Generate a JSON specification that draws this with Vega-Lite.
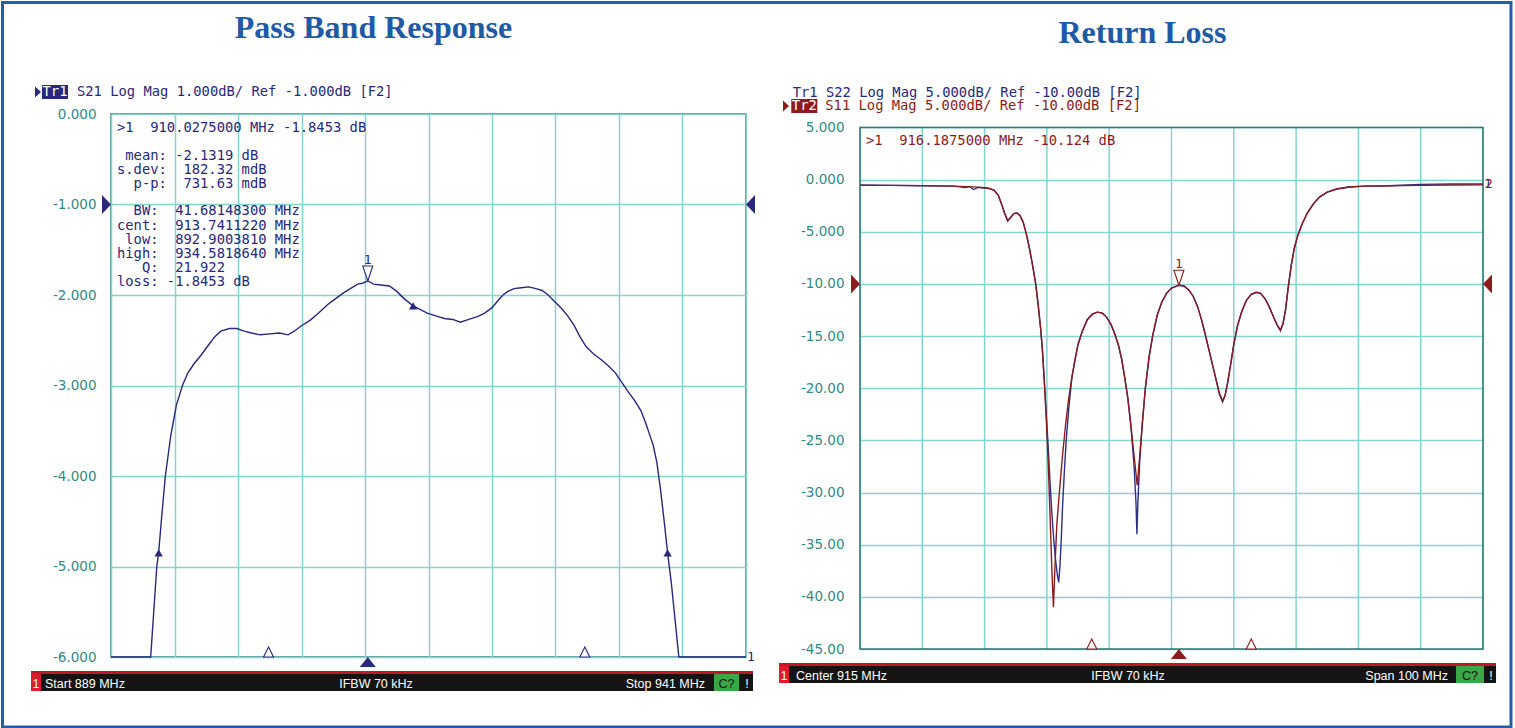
{
  "$schema": "https://vega.github.io/schema/vega-lite/v6.json",
  "background": "white",
  "padding": 0,
  "config": {
    "locale": {"number": {"decimal": ".", "thousands": ",", "grouping": [3], "currency": ["$", ""], "minus": "-"}},
    "view": {"stroke": "#2a7b78", "strokeWidth": 1.5},
    "axis": {"grid": true, "gridColor": "#86d3cf", "gridWidth": 1.5, "gridOpacity": 1, "ticks": false, "domain": false, "labelFont": "DejaVu Sans", "labelFontSize": 13.5, "labelColor": "#2f8a86"}
  },
  "datasets": {
    "s21": [
      {"freq":889,"db":-6},{"freq":892.25,"db":-6},{"freq":892.5,"db":-5.5},{"freq":892.75,"db":-5.0},{"freq":892.9,"db":-4.85},{"freq":893.15,"db":-4.45},{"freq":893.45,"db":-4.0},{"freq":893.9,"db":-3.55},{"freq":894.35,"db":-3.22},{"freq":894.85,"db":-3.0},{"freq":895.3,"db":-2.86},{"freq":895.8,"db":-2.76},{"freq":896.4,"db":-2.66},{"freq":897.0,"db":-2.55},{"freq":897.5,"db":-2.46},{"freq":898.0,"db":-2.4},{"freq":898.7,"db":-2.37},{"freq":899.3,"db":-2.37},{"freq":899.9,"db":-2.4},{"freq":900.5,"db":-2.42},{"freq":901.2,"db":-2.44},{"freq":902.0,"db":-2.43},{"freq":902.8,"db":-2.42},{"freq":903.5,"db":-2.44},{"freq":904.0,"db":-2.4},{"freq":904.6,"db":-2.34},{"freq":905.3,"db":-2.28},{"freq":906.0,"db":-2.2},{"freq":906.7,"db":-2.11},{"freq":907.4,"db":-2.04},{"freq":908.0,"db":-1.98},{"freq":908.6,"db":-1.93},{"freq":909.2,"db":-1.88},{"freq":909.6,"db":-1.87},{"freq":910.03,"db":-1.845},{"freq":910.5,"db":-1.88},{"freq":911.1,"db":-1.89},{"freq":911.8,"db":-1.9},{"freq":912.4,"db":-1.96},{"freq":913.0,"db":-2.04},{"freq":913.74,"db":-2.12},{"freq":914.3,"db":-2.16},{"freq":914.9,"db":-2.2},{"freq":915.6,"db":-2.23},{"freq":916.3,"db":-2.26},{"freq":917.0,"db":-2.27},{"freq":917.6,"db":-2.3},{"freq":918.3,"db":-2.27},{"freq":919.0,"db":-2.24},{"freq":919.6,"db":-2.2},{"freq":920.2,"db":-2.14},{"freq":920.7,"db":-2.06},{"freq":921.1,"db":-2.0},{"freq":921.5,"db":-1.96},{"freq":922.0,"db":-1.93},{"freq":922.6,"db":-1.92},{"freq":923.2,"db":-1.91},{"freq":923.8,"db":-1.93},{"freq":924.3,"db":-1.95},{"freq":924.8,"db":-2.0},{"freq":925.3,"db":-2.07},{"freq":925.9,"db":-2.15},{"freq":926.4,"db":-2.23},{"freq":926.9,"db":-2.33},{"freq":927.4,"db":-2.46},{"freq":927.9,"db":-2.57},{"freq":928.5,"db":-2.65},{"freq":929.1,"db":-2.71},{"freq":929.7,"db":-2.78},{"freq":930.3,"db":-2.86},{"freq":930.8,"db":-2.96},{"freq":931.3,"db":-3.06},{"freq":931.9,"db":-3.17},{"freq":932.4,"db":-3.28},{"freq":932.8,"db":-3.42},{"freq":933.1,"db":-3.54},{"freq":933.4,"db":-3.66},{"freq":933.7,"db":-3.85},{"freq":934.0,"db":-4.15},{"freq":934.3,"db":-4.5},{"freq":934.58,"db":-4.85},{"freq":934.9,"db":-5.2},{"freq":935.2,"db":-5.6},{"freq":935.5,"db":-6},{"freq":941,"db":-6}
    ],
    "s21marks": [{"freq":892.900381,"db":-4.85},{"freq":934.581864,"db":-4.85},{"freq":913.741122,"db":-2.12}],
    "s21span": [{"freq":901.9,"db":-6},{"freq":927.8,"db":-6}],
    "s21m1": [{"freq":910.0275,"db":-1.8453}],
    "rlgrid": [{"freq":865},{"freq":875},{"freq":885},{"freq":895},{"freq":905},{"freq":915},{"freq":925},{"freq":935},{"freq":945},{"freq":955},{"freq":965}],
    "s11": [
      {"freq":865,"db":-0.55},{"freq":870,"db":-0.55},{"freq":875,"db":-0.57},{"freq":880,"db":-0.62},{"freq":884,"db":-0.72},{"freq":885.5,"db":-0.8},{"freq":886.5,"db":-1.0},{"freq":887.2,"db":-1.5},{"freq":887.7,"db":-2.3},{"freq":888.2,"db":-3.2},{"freq":888.7,"db":-3.95},{"freq":889.2,"db":-3.6},{"freq":889.7,"db":-3.25},{"freq":890.2,"db":-3.2},{"freq":890.7,"db":-3.45},{"freq":891.2,"db":-4.1},{"freq":891.7,"db":-5.2},{"freq":892.2,"db":-6.6},{"freq":892.7,"db":-8.2},{"freq":893.2,"db":-10.0},{"freq":893.6,"db":-12.0},{"freq":894.0,"db":-14.3},{"freq":894.3,"db":-16.5},{"freq":894.6,"db":-19.5},{"freq":894.9,"db":-23.0},{"freq":895.2,"db":-27.0},{"freq":895.5,"db":-32.0},{"freq":895.8,"db":-37.5},{"freq":896.05,"db":-41.0},{"freq":896.3,"db":-37.0},{"freq":896.6,"db":-33.0},{"freq":897.0,"db":-30.0},{"freq":897.5,"db":-26.5},{"freq":898.0,"db":-23.5},{"freq":898.5,"db":-21.0},{"freq":899.0,"db":-19.0},{"freq":899.5,"db":-17.3},{"freq":900.0,"db":-15.8},{"freq":900.7,"db":-14.5},{"freq":901.5,"db":-13.4},{"freq":902.3,"db":-12.9},{"freq":903.1,"db":-12.7},{"freq":903.9,"db":-12.8},{"freq":904.6,"db":-13.2},{"freq":905.3,"db":-13.9},{"freq":905.9,"db":-14.8},{"freq":906.5,"db":-15.9},{"freq":907.0,"db":-17.2},{"freq":907.5,"db":-19.0},{"freq":908.0,"db":-21.0},{"freq":908.5,"db":-23.7},{"freq":909.0,"db":-26.5},{"freq":909.5,"db":-29.3},{"freq":909.9,"db":-26.5},{"freq":910.3,"db":-23.5},{"freq":910.8,"db":-20.0},{"freq":911.4,"db":-17.0},{"freq":912.0,"db":-14.9},{"freq":912.7,"db":-13.0},{"freq":913.4,"db":-11.8},{"freq":914.2,"db":-10.9},{"freq":915.0,"db":-10.4},{"freq":916.19,"db":-10.12},{"freq":917.0,"db":-10.2},{"freq":917.8,"db":-10.6},{"freq":918.5,"db":-11.2},{"freq":919.2,"db":-12.2},{"freq":919.8,"db":-13.4},{"freq":920.4,"db":-14.8},{"freq":921.0,"db":-16.3},{"freq":921.6,"db":-17.8},{"freq":922.2,"db":-19.3},{"freq":922.7,"db":-20.5},{"freq":923.2,"db":-21.2},{"freq":923.6,"db":-20.7},{"freq":924.0,"db":-19.5},{"freq":924.5,"db":-17.7},{"freq":925.0,"db":-15.8},{"freq":925.6,"db":-14.0},{"freq":926.3,"db":-12.6},{"freq":927.0,"db":-11.6},{"freq":927.8,"db":-11.0},{"freq":928.6,"db":-10.8},{"freq":929.3,"db":-10.9},{"freq":930.0,"db":-11.4},{"freq":930.7,"db":-12.2},{"freq":931.4,"db":-13.2},{"freq":932.0,"db":-14.0},{"freq":932.5,"db":-14.4},{"freq":932.9,"db":-13.8},{"freq":933.3,"db":-12.5},{"freq":933.7,"db":-10.5},{"freq":934.2,"db":-8.3},{"freq":934.7,"db":-6.6},{"freq":935.3,"db":-5.3},{"freq":936.0,"db":-4.2},{"freq":936.8,"db":-3.2},{"freq":937.8,"db":-2.3},{"freq":938.8,"db":-1.65},{"freq":940.0,"db":-1.2},{"freq":941.5,"db":-0.9},{"freq":943.5,"db":-0.7},{"freq":946,"db":-0.62},{"freq":950,"db":-0.58},{"freq":955,"db":-0.55},{"freq":960,"db":-0.52},{"freq":965,"db":-0.5}
    ],
    "s22": [
      {"freq":865,"db":-0.5},{"freq":870,"db":-0.55},{"freq":875,"db":-0.58},{"freq":880,"db":-0.62},{"freq":882,"db":-0.75},{"freq":882.6,"db":-0.65},{"freq":883.2,"db":-0.95},{"freq":884,"db":-0.75},{"freq":885.5,"db":-0.82},{"freq":886.5,"db":-1.0},{"freq":887.2,"db":-1.5},{"freq":887.7,"db":-2.3},{"freq":888.2,"db":-3.2},{"freq":888.7,"db":-3.95},{"freq":889.2,"db":-3.6},{"freq":889.7,"db":-3.25},{"freq":890.2,"db":-3.2},{"freq":890.7,"db":-3.45},{"freq":891.2,"db":-4.1},{"freq":891.7,"db":-5.2},{"freq":892.2,"db":-6.6},{"freq":892.7,"db":-8.2},{"freq":893.2,"db":-10.0},{"freq":893.6,"db":-12.0},{"freq":894.0,"db":-14.3},{"freq":894.3,"db":-16.5},{"freq":894.6,"db":-19.5},{"freq":894.9,"db":-22.5},{"freq":895.2,"db":-25.5},{"freq":895.5,"db":-29.0},{"freq":895.8,"db":-32.0},{"freq":896.1,"db":-34.5},{"freq":896.4,"db":-36.5},{"freq":896.7,"db":-38.0},{"freq":896.9,"db":-38.6},{"freq":897.1,"db":-37.0},{"freq":897.3,"db":-34.5},{"freq":897.5,"db":-31.5},{"freq":897.8,"db":-28.0},{"freq":898.1,"db":-25.0},{"freq":898.5,"db":-22.0},{"freq":899.0,"db":-19.0},{"freq":899.5,"db":-17.3},{"freq":900.0,"db":-15.8},{"freq":900.7,"db":-14.5},{"freq":901.5,"db":-13.4},{"freq":902.3,"db":-12.9},{"freq":903.1,"db":-12.7},{"freq":903.9,"db":-12.8},{"freq":904.6,"db":-13.2},{"freq":905.3,"db":-13.9},{"freq":905.9,"db":-14.8},{"freq":906.5,"db":-15.9},{"freq":907.0,"db":-17.2},{"freq":907.5,"db":-19.0},{"freq":908.0,"db":-21.0},{"freq":908.5,"db":-23.7},{"freq":909.0,"db":-27.5},{"freq":909.3,"db":-31.0},{"freq":909.45,"db":-34.0},{"freq":909.6,"db":-31.0},{"freq":909.9,"db":-27.0},{"freq":910.3,"db":-23.5},{"freq":910.8,"db":-20.0},{"freq":911.4,"db":-17.0},{"freq":912.0,"db":-14.9},{"freq":912.7,"db":-13.0},{"freq":913.4,"db":-11.8},{"freq":914.2,"db":-10.9},{"freq":915.0,"db":-10.4},{"freq":916.19,"db":-10.12},{"freq":917.0,"db":-10.2},{"freq":917.8,"db":-10.6},{"freq":918.5,"db":-11.2},{"freq":919.2,"db":-12.2},{"freq":919.8,"db":-13.4},{"freq":920.4,"db":-14.8},{"freq":921.0,"db":-16.3},{"freq":921.6,"db":-17.8},{"freq":922.2,"db":-19.3},{"freq":922.7,"db":-20.6},{"freq":923.2,"db":-21.3},{"freq":923.6,"db":-20.7},{"freq":924.0,"db":-19.5},{"freq":924.5,"db":-17.7},{"freq":925.0,"db":-15.8},{"freq":925.6,"db":-14.0},{"freq":926.3,"db":-12.6},{"freq":927.0,"db":-11.6},{"freq":927.8,"db":-11.0},{"freq":928.6,"db":-10.8},{"freq":929.3,"db":-10.9},{"freq":930.0,"db":-11.4},{"freq":930.7,"db":-12.2},{"freq":931.4,"db":-13.2},{"freq":932.0,"db":-14.0},{"freq":932.5,"db":-14.5},{"freq":932.9,"db":-13.8},{"freq":933.3,"db":-12.5},{"freq":933.7,"db":-10.5},{"freq":934.2,"db":-8.3},{"freq":934.7,"db":-6.6},{"freq":935.3,"db":-5.3},{"freq":936.0,"db":-4.2},{"freq":936.8,"db":-3.2},{"freq":937.8,"db":-2.3},{"freq":938.8,"db":-1.65},{"freq":940.0,"db":-1.2},{"freq":941.5,"db":-0.9},{"freq":943.5,"db":-0.7},{"freq":946,"db":-0.62},{"freq":950,"db":-0.58},{"freq":955,"db":-0.45},{"freq":960,"db":-0.42},{"freq":965,"db":-0.42}
    ],
    "s11span": [{"freq":902.2,"db":-45},{"freq":927.8,"db":-45}],
    "s11m1": [{"freq":916.1875,"db":-10.124}]
  },
  "columns": 2,
  "align": "none",
  "bounds": "flush",
  "spacing": 114,
  "concat": [
    {
      "width": 635,
      "height": 543,
      "data": {"values": [{}]},
      "layer": [
        {
          "data": {"name": "s21"},
          "mark": {"type": "line", "color": "#28287c", "strokeWidth": 1.4},
          "encoding": {
            "x": {"field": "freq", "type": "quantitative", "title": null, "scale": {"domain": [889, 941], "nice": false, "zero": false}, "axis": {"values": [889, 894.2, 899.4, 904.6, 909.8, 915, 920.2, 925.4, 930.6, 935.8, 941], "labels": false, "title": null}},
            "y": {"field": "db", "type": "quantitative", "title": null, "scale": {"domain": [-6, 0], "nice": false, "zero": false}, "axis": {"values": [0, -1, -2, -3, -4, -5, -6], "format": ".3f", "labelPadding": 15, "title": null}}
          }
        },
        {
          "mark": {"type": "rect", "fillOpacity": 0, "stroke": "#2060a8", "strokeWidth": 3},
          "encoding": {"x": {"datum": 880.115}, "x2": {"datum": 1003.645}, "y": {"datum": 1.232}, "y2": {"datum": -6.7735}}
        },
        {
          "mark": {"type": "text", "font": "Liberation Serif", "fontSize": 32, "fontWeight": "bold", "color": "#1f5aa6", "align": "center", "baseline": "alphabetic"},
          "encoding": {"x": {"datum": 910.496}, "y": {"datum": 0.8398}, "text": {"value": "Pass Band Response"}}
        },
        {
          "data": {"name": "s21marks"},
          "mark": {"type": "point", "shape": "triangle-up", "size": 70, "filled": true, "color": "#28287c", "opacity": 1},
          "encoding": {"x": {"field": "freq", "type": "quantitative", "title": null}, "y": {"field": "db", "type": "quantitative", "title": null}}
        },
        {
          "data": {"name": "s21span"},
          "mark": {"type": "point", "shape": "M0,-2 L1,0 L-1,0 Z", "size": 100, "filled": true, "fill": "white", "stroke": "#28287c", "strokeWidth": 1.1, "opacity": 1},
          "encoding": {"x": {"field": "freq", "type": "quantitative", "title": null}, "y": {"field": "db", "type": "quantitative", "title": null}}
        },
        {
          "data": {"name": "s21m1"},
          "mark": {"type": "point", "shape": "M-1,-3 L1,-3 L0,0 Z", "size": 100, "filled": true, "fill": "white", "stroke": "#28287c", "strokeWidth": 1.1, "opacity": 1},
          "encoding": {"x": {"field": "freq", "type": "quantitative", "title": null}, "y": {"field": "db", "type": "quantitative", "title": null}}
        },
        {
          "data": {"name": "s21m1"},
          "mark": {"type": "text", "text": "1", "font": "DejaVu Sans Mono", "fontSize": 13, "color": "#28287c", "dy": -17, "baseline": "alphabetic"},
          "encoding": {"x": {"field": "freq", "type": "quantitative", "title": null}, "y": {"field": "db", "type": "quantitative", "title": null}}
        },
        {
          "data": {"name": "s21m1"},
          "mark": {"type": "point", "shape": "M0,0 L1,1.25 L-1,1.25 Z", "size": 256, "filled": true, "color": "#28287c", "opacity": 1},
          "encoding": {"x": {"field": "freq", "type": "quantitative", "title": null}, "y": {"datum": -6}}
        },
        {
          "mark": {"type": "point", "shape": "M0,0 L-2,-2.1 L-2,2.1 Z", "size": 81, "filled": true, "color": "#28287c", "opacity": 1},
          "encoding": {"x": {"datum": 889}, "y": {"datum": -1}}
        },
        {
          "mark": {"type": "point", "shape": "M0,0 L2,-2.1 L2,2.1 Z", "size": 81, "filled": true, "color": "#28287c", "opacity": 1},
          "encoding": {"x": {"datum": 941}, "y": {"datum": -1}}
        },
        {
          "mark": {"type": "text", "font": "DejaVu Sans Mono", "fontSize": 13, "color": "#28287c", "align": "left", "dx": 1, "baseline": "middle"},
          "encoding": {"x": {"datum": 941}, "y": {"datum": -6}, "text": {"value": "1"}}
        },
        {
          "mark": {"type": "point", "shape": "M0,0 L-2,-1.8 L-2,1.8 Z", "size": 36, "filled": true, "color": "#28287c", "opacity": 1},
          "encoding": {"x": {"datum": 883.268}, "y": {"datum": 0.2431}}
        },
        {
          "mark": {"type": "point", "shape": "M-1.86,-1 L1.86,-1 L1.86,1 L-1.86,1 Z", "size": 196, "filled": true, "color": "#28287c", "opacity": 1},
          "encoding": {"x": {"datum": 884.414}, "y": {"datum": 0.2431}}
        },
        {
          "mark": {"type": "text", "font": "DejaVu Sans Mono", "fontSize": 13.8, "color": "white", "align": "center", "baseline": "alphabetic"},
          "encoding": {"x": {"datum": 884.414}, "y": {"datum": 0.1934}, "text": {"value": "Tr1"}}
        },
        {
          "mark": {"type": "text", "font": "DejaVu Sans Mono", "fontSize": 13.8, "color": "#28287c", "align": "left", "baseline": "alphabetic"},
          "encoding": {"x": {"datum": 886.216}, "y": {"datum": 0.1934}, "text": {"value": "S21 Log Mag 1.000dB/ Ref -1.000dB [F2]"}}
        },
        {
          "mark": {"type": "text", "font": "DejaVu Sans Mono", "fontSize": 13.8, "color": "#28287c", "align": "left", "baseline": "alphabetic"},
          "encoding": {"x": {"datum": 889.491}, "y": {"datum": -0.2011}, "text": {"value": ">1\u00a0\u00a0910.0275000\u00a0MHz\u00a0-1.8453\u00a0dB"}}
        },
        {
          "mark": {"type": "text", "font": "DejaVu Sans Mono", "fontSize": 13.8, "color": "#28287c", "align": "left", "baseline": "alphabetic", "lineHeight": 14.1},
          "encoding": {"x": {"datum": 889.491}, "y": {"datum": -0.5028}, "text": {"value": ["\u200b\u00a0mean:\u00a0-2.1319\u00a0dB", "\u200bs.dev:\u00a0\u00a0182.32\u00a0mdB", "\u200b\u00a0\u00a0p-p:\u00a0\u00a0731.63\u00a0mdB"]}}
        },
        {
          "mark": {"type": "text", "font": "DejaVu Sans Mono", "fontSize": 13.8, "color": "#28287c", "align": "left", "baseline": "alphabetic", "lineHeight": 14.1},
          "encoding": {"x": {"datum": 889.491}, "y": {"datum": -1.1215}, "text": {"value": ["\u200b\u00a0\u00a0BW:\u00a0\u00a041.68148300\u00a0MHz", "\u200bcent:\u00a0\u00a0913.7411220\u00a0MHz", "\u200b\u00a0low:\u00a0\u00a0892.9003810\u00a0MHz", "\u200bhigh:\u00a0\u00a0934.5818640\u00a0MHz", "\u200b\u00a0\u00a0\u00a0Q:\u00a0\u00a021.922", "\u200bloss:\u00a0-1.8453\u00a0dB"]}}
        },
        {
          "mark": {"type": "rect", "color": "#c0182a", "opacity": 1},
          "encoding": {"x": {"datum": 882.449}, "x2": {"datum": 941.573}, "y": {"datum": -6.155}, "y2": {"datum": -6.188}}
        },
        {
          "mark": {"type": "rect", "color": "#141414", "opacity": 1},
          "encoding": {"x": {"datum": 882.449}, "x2": {"datum": 941.573}, "y": {"datum": -6.188}, "y2": {"datum": -6.376}}
        },
        {
          "mark": {"type": "rect", "color": "#e01b2b", "opacity": 1},
          "encoding": {"x": {"datum": 882.449}, "x2": {"datum": 883.268}, "y": {"datum": -6.188}, "y2": {"datum": -6.376}}
        },
        {
          "mark": {"type": "rect", "color": "#3aa845", "opacity": 1},
          "encoding": {"x": {"datum": 938.38}, "x2": {"datum": 940.43}, "y": {"datum": -6.188}, "y2": {"datum": -6.376}}
        },
        {
          "mark": {"type": "text", "font": "Liberation Sans", "fontSize": 12.5, "color": "white", "align": "center", "baseline": "alphabetic"},
          "encoding": {"x": {"datum": 882.858}, "y": {"datum": -6.343}, "text": {"value": "1"}}
        },
        {
          "mark": {"type": "text", "font": "Liberation Sans", "fontSize": 12.5, "color": "white", "align": "left", "baseline": "alphabetic"},
          "encoding": {"x": {"datum": 883.595}, "y": {"datum": -6.343}, "text": {"value": "Start 889 MHz"}}
        },
        {
          "mark": {"type": "text", "font": "Liberation Sans", "fontSize": 12.5, "color": "white", "align": "center", "baseline": "alphabetic"},
          "encoding": {"x": {"datum": 910.701}, "y": {"datum": -6.343}, "text": {"value": "IFBW 70 kHz"}}
        },
        {
          "mark": {"type": "text", "font": "Liberation Sans", "fontSize": 12.5, "color": "white", "align": "right", "baseline": "alphabetic"},
          "encoding": {"x": {"datum": 937.643}, "y": {"datum": -6.343}, "text": {"value": "Stop 941 MHz"}}
        },
        {
          "mark": {"type": "text", "font": "Liberation Sans", "fontSize": 12.5, "color": "#111111", "align": "center", "baseline": "alphabetic"},
          "encoding": {"x": {"datum": 939.40}, "y": {"datum": -6.343}, "text": {"value": "C?"}}
        },
        {
          "mark": {"type": "text", "font": "Liberation Sans", "fontSize": 12.5, "color": "white", "align": "center", "baseline": "alphabetic"},
          "encoding": {"x": {"datum": 941.08}, "y": {"datum": -6.343}, "text": {"value": "!"}}
        }
      ]
    },
    {
      "width": 623,
      "height": 535,
      "view": {"stroke": null},
      "data": {"values": [{}]},
      "layer": [
        {
          "data": {"name": "rlgrid"},
          "mark": {"type": "rule", "color": "#86d3cf", "strokeWidth": 1.5},
          "encoding": {
            "x": {"field": "freq", "type": "quantitative", "title": null, "scale": {"domain": [865, 965], "nice": false, "zero": false}, "axis": null},
            "y": {"datum": -45, "type": "quantitative", "title": null, "scale": {"domain": [-45, 6.294], "nice": false, "zero": false}, "axis": {"values": [5, 0, -5, -10, -15, -20, -25, -30, -35, -40, -45], "labelExpr": "datum.value <= -10 ? format(datum.value, '.2f') : format(datum.value, '.3f')", "labelPadding": 16, "title": null}},
            "y2": {"datum": 5}
          }
        },
        {
          "mark": {"type": "rect", "fillOpacity": 0, "stroke": "#2a7b78", "strokeWidth": 1.5},
          "encoding": {"x": {"datum": 865}, "x2": {"datum": 965}, "y": {"datum": -45}, "y2": {"datum": 5}}
        },
        {
          "mark": {"type": "text", "font": "Liberation Serif", "fontSize": 32, "fontWeight": "bold", "color": "#1f5aa6", "align": "center", "baseline": "alphabetic"},
          "encoding": {"x": {"datum": 910.345}, "y": {"datum": 13.073}, "text": {"value": "Return Loss"}}
        },
        {
          "data": {"name": "s22"},
          "mark": {"type": "line", "color": "#2e2e8c", "strokeWidth": 1.4},
          "encoding": {"x": {"field": "freq", "type": "quantitative", "title": null}, "y": {"field": "db", "type": "quantitative", "title": null}}
        },
        {
          "data": {"name": "s11"},
          "mark": {"type": "line", "color": "#8c1c1c", "strokeWidth": 1.4},
          "encoding": {"x": {"field": "freq", "type": "quantitative", "title": null}, "y": {"field": "db", "type": "quantitative", "title": null}}
        },
        {
          "data": {"name": "s11span"},
          "mark": {"type": "point", "shape": "M0,-2 L1,0 L-1,0 Z", "size": 100, "filled": true, "fill": "white", "stroke": "#8c1c1c", "strokeWidth": 1.1, "opacity": 1},
          "encoding": {"x": {"field": "freq", "type": "quantitative", "title": null}, "y": {"field": "db", "type": "quantitative", "title": null}}
        },
        {
          "data": {"name": "s11m1"},
          "mark": {"type": "point", "shape": "M-1,-3 L1,-3 L0,0 Z", "size": 100, "filled": true, "fill": "white", "stroke": "#8c1c1c", "strokeWidth": 1.1, "opacity": 1},
          "encoding": {"x": {"field": "freq", "type": "quantitative", "title": null}, "y": {"field": "db", "type": "quantitative", "title": null}}
        },
        {
          "data": {"name": "s11m1"},
          "mark": {"type": "text", "text": "1", "font": "DejaVu Sans Mono", "fontSize": 13, "color": "#8c1c1c", "dy": -17, "baseline": "alphabetic"},
          "encoding": {"x": {"field": "freq", "type": "quantitative", "title": null}, "y": {"field": "db", "type": "quantitative", "title": null}}
        },
        {
          "data": {"name": "s11m1"},
          "mark": {"type": "point", "shape": "M0,0 L1,1.25 L-1,1.25 Z", "size": 256, "filled": true, "color": "#8c1c1c", "opacity": 1},
          "encoding": {"x": {"field": "freq", "type": "quantitative", "title": null}, "y": {"datum": -45}}
        },
        {
          "mark": {"type": "point", "shape": "M0,0 L-2,-2.1 L-2,2.1 Z", "size": 81, "filled": true, "color": "#8c1c1c", "opacity": 1},
          "encoding": {"x": {"datum": 865}, "y": {"datum": -10}}
        },
        {
          "mark": {"type": "point", "shape": "M0,0 L2,-2.1 L2,2.1 Z", "size": 81, "filled": true, "color": "#8c1c1c", "opacity": 1},
          "encoding": {"x": {"datum": 965}, "y": {"datum": -10}}
        },
        {
          "mark": {"type": "text", "font": "DejaVu Sans Mono", "fontSize": 13, "color": "#2e2e8c", "align": "left", "dx": 1, "baseline": "middle"},
          "encoding": {"x": {"datum": 965}, "y": {"datum": -0.45}, "text": {"value": "1"}}
        },
        {
          "mark": {"type": "text", "font": "DejaVu Sans Mono", "fontSize": 13, "color": "#8c1c1c", "align": "left", "dx": 2, "baseline": "middle"},
          "encoding": {"x": {"datum": 965}, "y": {"datum": -0.45}, "text": {"value": "2"}}
        },
        {
          "mark": {"type": "text", "font": "DejaVu Sans Mono", "fontSize": 13.8, "color": "#28287c", "align": "left", "baseline": "alphabetic"},
          "encoding": {"x": {"datum": 854.197}, "y": {"datum": 7.905}, "text": {"value": "Tr1 S22 Log Mag 5.000dB/ Ref -10.00dB [F2]"}}
        },
        {
          "mark": {"type": "point", "shape": "M0,0 L-2,-1.8 L-2,1.8 Z", "size": 36, "filled": true, "color": "#8c1c1c", "opacity": 1},
          "encoding": {"x": {"datum": 853.604}, "y": {"datum": 7.061}}
        },
        {
          "mark": {"type": "point", "shape": "M-1.86,-1 L1.86,-1 L1.86,1 L-1.86,1 Z", "size": 196, "filled": true, "color": "#8c1c1c", "opacity": 1},
          "encoding": {"x": {"datum": 856.06}, "y": {"datum": 7.061}}
        },
        {
          "mark": {"type": "text", "font": "DejaVu Sans Mono", "fontSize": 13.8, "color": "white", "align": "center", "baseline": "alphabetic"},
          "encoding": {"x": {"datum": 856.06}, "y": {"datum": 6.63}, "text": {"value": "Tr2"}}
        },
        {
          "mark": {"type": "text", "font": "DejaVu Sans Mono", "fontSize": 13.8, "color": "#8c1c1c", "align": "left", "baseline": "alphabetic"},
          "encoding": {"x": {"datum": 859.43}, "y": {"datum": 6.63}, "text": {"value": "S11 Log Mag 5.000dB/ Ref -10.00dB [F2]"}}
        },
        {
          "mark": {"type": "text", "font": "DejaVu Sans Mono", "fontSize": 13.8, "color": "#8c1c1c", "align": "left", "baseline": "alphabetic"},
          "encoding": {"x": {"datum": 865.963}, "y": {"datum": 3.274}, "text": {"value": ">1\u00a0\u00a0916.1875000\u00a0MHz\u00a0-10.124\u00a0dB"}}
        },
        {
          "mark": {"type": "rect", "color": "#c0182a", "opacity": 1},
          "encoding": {"x": {"datum": 852.0}, "x2": {"datum": 967.09}, "y": {"datum": -46.34}, "y2": {"datum": -46.63}}
        },
        {
          "mark": {"type": "rect", "color": "#141414", "opacity": 1},
          "encoding": {"x": {"datum": 852.0}, "x2": {"datum": 967.09}, "y": {"datum": -46.63}, "y2": {"datum": -48.26}}
        },
        {
          "mark": {"type": "rect", "color": "#e01b2b", "opacity": 1},
          "encoding": {"x": {"datum": 852.0}, "x2": {"datum": 853.6}, "y": {"datum": -46.63}, "y2": {"datum": -48.26}}
        },
        {
          "mark": {"type": "rect", "color": "#3aa845", "opacity": 1},
          "encoding": {"x": {"datum": 960.66}, "x2": {"datum": 965.16}, "y": {"datum": -46.63}, "y2": {"datum": -48.26}}
        },
        {
          "mark": {"type": "text", "font": "Liberation Sans", "fontSize": 12.5, "color": "white", "align": "center", "baseline": "alphabetic"},
          "encoding": {"x": {"datum": 852.8}, "y": {"datum": -47.97}, "text": {"value": "1"}}
        },
        {
          "mark": {"type": "text", "font": "Liberation Sans", "fontSize": 12.5, "color": "white", "align": "left", "baseline": "alphabetic"},
          "encoding": {"x": {"datum": 854.73}, "y": {"datum": -47.97}, "text": {"value": "Center 915 MHz"}}
        },
        {
          "mark": {"type": "text", "font": "Liberation Sans", "fontSize": 12.5, "color": "white", "align": "center", "baseline": "alphabetic"},
          "encoding": {"x": {"datum": 908.02}, "y": {"datum": -47.97}, "text": {"value": "IFBW 70 kHz"}}
        },
        {
          "mark": {"type": "text", "font": "Liberation Sans", "fontSize": 12.5, "color": "white", "align": "right", "baseline": "alphabetic"},
          "encoding": {"x": {"datum": 959.38}, "y": {"datum": -47.97}, "text": {"value": "Span 100 MHz"}}
        },
        {
          "mark": {"type": "text", "font": "Liberation Sans", "fontSize": 12.5, "color": "#111111", "align": "center", "baseline": "alphabetic"},
          "encoding": {"x": {"datum": 962.91}, "y": {"datum": -47.97}, "text": {"value": "C?"}}
        },
        {
          "mark": {"type": "text", "font": "Liberation Sans", "fontSize": 12.5, "color": "white", "align": "center", "baseline": "alphabetic"},
          "encoding": {"x": {"datum": 966.28}, "y": {"datum": -47.97}, "text": {"value": "!"}}
        }
      ]
    }
  ]
}
